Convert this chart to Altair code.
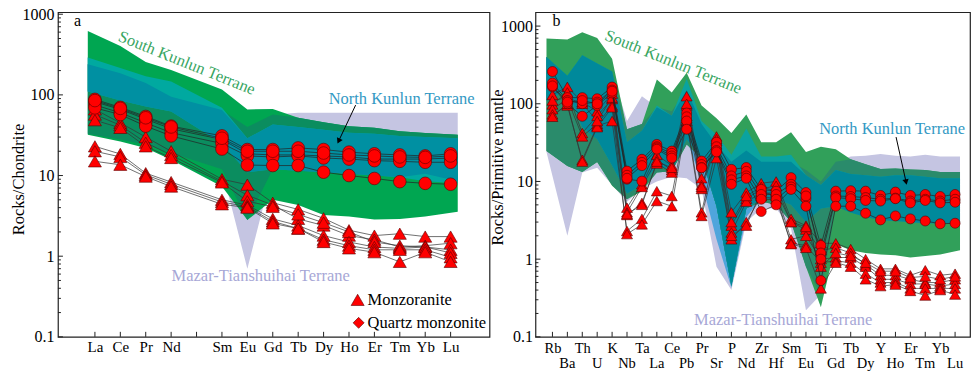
import altair as alt
import pandas as pd
import numpy as np

FONT = "Liberation Serif"

# ================= Panel a : chondrite-normalised REE =================
a_tick_labels = ["La", "Ce", "Pr", "Nd", "", "Sm", "Eu", "Gd", "Tb", "Dy", "Ho", "Er", "Tm", "Yb", "Lu"]
a_pos = [0, 1, 2, 3, 5, 6, 7, 8, 9, 10, 11, 12, 13, 14]
a_band_pos = [-0.28, 1, 2, 3, 5, 6, 7, 8, 9, 10, 11, 12, 13, 14.28]

# terrane fields (upper / lower envelopes)
a_sk_hi = [620, 405, 255, 203, 117, 66, 67, 52, 45.7, 40.7, 39, 35.4, 33.7, 32]
a_sk_lo = [32, 26.5, 21.9, 15.7, 7.3, 2.8, 5.0, 4.3, 3.24, 3.1, 2.86, 2.9, 3.1, 3.56]
a_nk_hi = [290, 216, 170, 147, 69, 29, 43, 40, 37, 34, 33, 31, 30, 29]
a_nk_lo = [110, 85, 72, 62, 25, 11, 12, 11.5, 11, 10.5, 10, 9.5, 8.5, 8]
a_mt_hi = [240, 185, 140, 95, 65, 40, 57, 60, 60, 60, 60, 60, 60, 60]
a_mt_lo = [33, 28, 24, 19, 12, 0.7, 12, 11.5, 11, 10.5, 10, 9.5, 10.5, 8.5]

# quartz monzonite (circles)
a_q1 = [88, 70, 54, 41, 31, 21, 21, 22, 21, 19.5, 18.6, 18, 17.5, 18.6]
a_q2 = [82, 66, 50, 38, 28, 18.6, 18, 18, 17.5, 17, 16, 16, 16, 16.5]
a_q3 = [75, 60, 45, 34, 25, 17.5, 17, 17.5, 16.5, 16, 15.3, 15, 14.6, 14.6]
a_q4 = [69, 57, 41, 31, 21.3, 13.5, 13.3, 13.3, 11, 10, 9.2, 8.4, 8, 7.8]
a_q5 = [85, 68, 52, 40, 29, 20, 20, 20, 19, 18, 17.5, 17, 16.8, 17.5]
# monzoranite (triangles)
a_t1 = [66, 45, 30, 20, 9, 7.7, 4.6, 3.8, 2.95, 2.1, 1.8, 1.9, 1.75, 1.75]
a_t2 = [57, 42, 25.5, 18, 8.5, 5.7, 4.3, 2.9, 2.4, 1.8, 1.6, 1.3, 1.35, 1.45]
a_t3 = [48.5, 39, 23, 16.5, 8.2, 4.8, 4.1, 3.3, 2.6, 2.0, 1.5, 1.35, 1.3, 1.2]
a_t4 = [23, 18.5, 10.7, 8.3, 5.0, 4.3, 2.9, 2.4, 1.8, 1.5, 1.3, 1.25, 1.3, 1.1]
a_t5 = [20, 17, 10.2, 7.8, 4.7, 4.1, 2.7, 2.2, 1.6, 1.35, 1.2, 1.2, 1.2, 0.97]
a_t6 = [15, 13.6, 9.7, 7.3, 4.4, 4.0, 2.55, 2.2, 1.5, 1.25, 1.12, 0.85, 1.12, 0.85]

# ================= Panel b : primitive-mantle-normalised spider =================
b_elems = ["Rb", "Ba", "Th", "U", "K", "Nb", "Ta", "La", "Ce", "Pb", "Pr", "Sr", "P", "Nd",
           "Zr", "Hf", "Sm", "Eu", "Ti", "Gd", "Tb", "Dy", "Y", "Ho", "Er", "Tm", "Yb", "Lu"]
b_pos = list(range(28))
b_band_pos = [-0.4] + list(range(1, 27)) + [27.33]

b_sk_hi = [690, 670, 830, 700, 380, 47, 55, 205, 140, 250, 95, 65, 42, 73, 32, 32, 43, 24, 28, 26,
           19.3, 16.6, 14.5, 14.7, 14.3, 14, 13.2, 13.2]
b_sk_lo = [24.6, 15.8, 13.2, 17.8, 8.8, 5.9, 7.5, 13, 13.5, 30, 20, 4.8, 0.45, 4.5, 5.5, 5, 3, 0.8,
           0.24, 1.55, 1.3, 1.2, 1.15, 1.12, 1.05, 1.1, 1.15, 1.3]
b_nk_hi = [400, 230, 420, 330, 260, 32, 45, 95, 70, 210, 60, 40, 22, 48, 21, 21, 22, 12, 9, 14,
           12.5, 12, 11.5, 12, 12, 11.5, 11, 11]
b_nk_lo = [110, 150, 50, 35, 16, 7, 9, 16, 14, 35, 10, 1.8, 0.43, 3.5, 6, 6, 5, 3, 4.5, 4.8,
           4, 3.5, 3.2, 3.1, 3.0, 2.9, 2.9, 2.9]
b_mt_hi = [400, 230, 420, 330, 260, 60, 125, 90, 80, 150, 55, 30, 18, 25, 18, 18, 18, 14, 10, 18,
           21, 21.5, 22.5, 21.5, 21, 22, 21, 21]
b_mt_lo = [24, 2.0, 13, 15, 9, 5.5, 8, 10, 11.5, 11, 8, 0.8, 0.4, 3, 4.5, 4.5, 2.5, 0.22, 0.35, 4.8,
           4, 3.5, 3.2, 3.1, 3.0, 2.9, 2.9, 2.9]

b_q1 = [260, 120, 120, 116, 164, 13.6, 19.3, 30, 24.6, 76, 18.3, 32, 14.3, 15.1, 7.9, 7.5, 11.2, 7.2,
        1.5, 7.5, 7.6, 7.5, 6.6, 7.3, 6.6, 6.8, 6.4, 6.8]
b_q2 = [185, 110, 100, 105, 150, 12, 17.6, 28, 23, 68, 16.5, 28, 11.8, 13.5, 6.8, 6.8, 9.2, 6.0,
        1.2, 6.5, 6.4, 6.2, 5.9, 6.1, 5.6, 5.9, 5.6, 5.9]
b_q3 = [165, 100, 69, 95, 138, 10.7, 10.1, 27, 21.3, 60, 15.1, 25, 10.5, 11.8, 5.9, 5.9, 8.5, 6.5,
        1.0, 6.2, 6.0, 5.7, 5.6, 6.0, 5.3, 5.7, 5.3, 5.4]
b_q4 = [170, 105, 110, 100, 145, 11, 16, 26, 20, 47, 15, 24, 9.2, 11, 4.1, 5.0, 7.9, 4.8,
        0.53, 4.8, 4.8, 3.9, 3.2, 3.6, 3.3, 3.1, 2.85, 2.9]
b_t1 = [130, 165, 105, 80, 135, 4.6, 9.2, 22, 16, 125, 11, 38, 4.0, 7.2, 9.5, 10, 3.3, 2.7,
        1.6, 1.6, 1.35, 1.0, 0.75, 0.75, 0.62, 0.72, 0.62, 0.65]
b_t2 = [98, 140, 42, 70, 115, 4.0, 8.5, 19, 14, 95, 9, 33, 2.7, 6.0, 8, 8.8, 3.0, 2.4,
        1.3, 1.4, 1.2, 0.85, 0.62, 0.62, 0.55, 0.5, 0.5, 0.55]
b_t3 = [85, 115, 38, 55, 95, 3.7, 5.3, 17, 13, 70, 8, 30, 2.2, 5.5, 7, 7.2, 1.8, 2.0,
        1.0, 1.05, 1.05, 0.8, 0.55, 0.55, 0.48, 0.48, 0.45, 0.48]
b_t4 = [73, 95, 19, 52, 60, 2.3, 3.3, 7.5, 6.5, 65, 4.0, 28, 1.8, 3.0, 6.5, 5.9, 1.6, 1.5,
        0.9, 0.95, 0.9, 0.65, 0.5, 0.5, 0.42, 0.42, 0.42, 0.42]
b_t5 = [68, 100, 18, 50, 90, 2.1, 2.8, 5.6, 4.8, 60, 3.6, 20, 2.0, 2.7, 7.5, 6.5, 1.56, 1.4,
        0.42, 0.9, 0.8, 0.55, 0.45, 0.47, 0.39, 0.34, 0.40, 0.35]
b_t6 = [110, 120, 100, 60, 120, 3.8, 5, 18, 15, 100, 8.5, 35, 3, 6.5, 8.5, 7.5, 3.0, 2.6,
        0.8, 1.2, 1.1, 0.9, 0.7, 0.7, 0.58, 0.6, 0.55, 0.6]

A_COLORS = {"mt": "#c5c5e2", "nk": "#4fa5dc", "sk": "#00a651",
            "sk_mt": "#0b8d5f", "sk_nk": "#00a9a0", "all": "#0090a2"}
B_COLORS = {"mt": "#c5c5e2", "nk": "#4fa5dc", "sk": "#31a05a",
            "sk_mt": "#2a8b6b", "sk_nk": "#0aa3a0", "all": "#00899b"}
SK_TXT = "#38a55f"
NK_TXT = "#3399c4"
MT_TXT = "#a7a7d6"


def make_bands(band_pos, sk, nk, mt):
    SK = (np.array(sk[0], float), np.array(sk[1], float))
    NK = (np.array(nk[0], float), np.array(nk[1], float))
    MT = (np.array(mt[0], float), np.array(mt[1], float))

    def inter(*bs):
        lo = np.max([b[0] for b in bs], axis=0)
        hi = np.min([b[1] for b in bs], axis=0)
        mid = np.sqrt(lo * hi)
        empty = lo >= hi
        return np.where(empty, mid, lo), np.where(empty, mid, hi)

    regs = [("mt", MT), ("nk", NK), ("sk", SK),
            ("sk_mt", inter(SK, MT)), ("sk_nk", inter(SK, NK)), ("all", inter(SK, NK, MT))]
    return [(n, pd.DataFrame({"p": band_pos, "lo": r[0], "hi": r[1]})) for n, r in regs]


def series_df(series, pos):
    rows = []
    for name, vals in series:
        for p, v in zip(pos, vals):
            rows.append({"s": name, "p": p, "v": v})
    return pd.DataFrame(rows)


def one(**kw):
    return pd.DataFrame([kw]) if kw else pd.DataFrame([{"d": 0}])


def build_panel(W, H, xdom, ydom, x_axis, y_axis, bands, colors, pos, qm, mz,
                circ_size, tri_size, n_xticks, extra):
    xs = alt.Scale(domain=xdom, nice=False, zero=False)
    ys = alt.Scale(type="log", domain=ydom, nice=False)

    def X(f):
        return alt.X(f"{f}:Q", scale=xs, axis=x_axis)

    def Y(f):
        return alt.Y(f"{f}:Q", scale=ys, axis=y_axis)

    layers = []
    for name, df in bands:
        layers.append(alt.Chart(df).mark_area(color=colors[name], opacity=1, strokeWidth=0)
                      .encode(x=X("p"), y=Y("hi"), y2=alt.Y2("lo")))

    mzdf = series_df(mz, pos)
    qmdf = series_df(qm, pos)
    layers.append(alt.Chart(mzdf).mark_line(color="#333333", strokeWidth=0.7)
                  .encode(x=X("p"), y=Y("v"), detail="s:N"))
    layers.append(alt.Chart(mzdf).mark_point(shape="triangle-up", filled=True, fill="#ff0000",
                                             stroke="#5a0000", strokeWidth=0.6, size=tri_size, opacity=1)
                  .encode(x=X("p"), y=Y("v")))
    layers.append(alt.Chart(qmdf).mark_line(color="#222222", strokeWidth=0.7)
                  .encode(x=X("p"), y=Y("v"), detail="s:N"))
    layers.append(alt.Chart(qmdf).mark_point(shape="circle", filled=True, fill="#ff0000",
                                             stroke="#5a0000", strokeWidth=0.6, size=circ_size, opacity=1)
                  .encode(x=X("p"), y=Y("v")))

    # inward ticks
    major = [0.1, 1, 10, 100, 1000]
    minor = [k * d for d in [0.1, 1, 10, 100, 1000] for k in range(2, 10) if k * d <= ydom[1]]
    layers.append(alt.Chart(pd.DataFrame({"v": major})).mark_rule(color="#222", strokeWidth=1)
                  .encode(y=Y("v"), x=alt.value(0), x2=alt.value(5)))
    layers.append(alt.Chart(pd.DataFrame({"v": minor})).mark_rule(color="#222", strokeWidth=1)
                  .encode(y=Y("v"), x=alt.value(0), x2=alt.value(3)))
    layers.append(alt.Chart(pd.DataFrame({"p": list(range(n_xticks))})).mark_rule(color="#222", strokeWidth=1)
                  .encode(x=X("p"), y=alt.value(H), y2=alt.value(H - 5)))

    for e in extra:
        layers.append(e(X, Y))
    return alt.layer(*layers).properties(width=W, height=H)


def text_layer(t, x, y, size=16.5, color="black", angle=0, align="center"):
    def f(X, Y):
        return alt.Chart(one(t=t)).mark_text(font=FONT, fontSize=size, color=color, angle=angle,
                                             align=align, baseline="middle").encode(
            x=alt.value(x), y=alt.value(y), text="t:N")
    return f


def arrow_layer(x1, y1, x2, y2, ang):
    def f(X, Y):
        line = alt.Chart(one()).mark_rule(color="black", strokeWidth=1).encode(
            x=alt.value(x1), y=alt.value(y1), x2=alt.value(x2), y2=alt.value(y2))
        head = alt.Chart(one()).mark_point(shape="triangle-up", filled=True, color="black",
                                           size=40, angle=ang, opacity=1).encode(
            x=alt.value(x2), y=alt.value(y2))
        return alt.layer(line, head)
    return f


def symbol_layer(shape, x, y, size):
    def f(X, Y):
        return alt.Chart(one()).mark_point(shape=shape, filled=True, fill="#ff0000", stroke="#5a0000",
                                           strokeWidth=0.6, size=size, opacity=1).encode(
            x=alt.value(x), y=alt.value(y))
    return f


H = 325

# ---- panel a ----
WA = 432
a_label_expr = "[" + ",".join(f"'{l}'" for l in a_tick_labels) + "][datum.value]"
a_x_axis = alt.Axis(values=list(range(15)), labelExpr=a_label_expr, ticks=False, domain=False,
                    grid=False, labelPadding=3, labelFontSize=15, title=None, labelOverlap=False,
                    labelFlush=False, labelBound=False)
a_y_axis = alt.Axis(values=[0.1, 1, 10, 100, 1000], format="~g", ticks=False, domain=False, grid=False,
                    labelPadding=4, labelFontSize=16, labelOverlap=False, labelFlush=False,
                    title="Rocks/Chondrite", titleFontSize=16.5, titleFontWeight="normal",
                    titleAngle=270, titleBaseline="middle", titleAlign="center", titleX=-39.5, titleY=167)

panel_a = build_panel(
    WA, H, [-1.455, 15.53], [0.1, 1060], a_x_axis, a_y_axis,
    make_bands(a_band_pos, (a_sk_lo, a_sk_hi), (a_nk_lo, a_nk_hi), (a_mt_lo, a_mt_hi)),
    A_COLORS, a_pos,
    [("q1", a_q1), ("q2", a_q2), ("q3", a_q3), ("q4", a_q4), ("q5", a_q5)],
    [("t1", a_t1), ("t2", a_t2), ("t3", a_t3), ("t4", a_t4), ("t5", a_t5), ("t6", a_t6)],
    160, 170, 15,
    [text_layer("a", 16, 9, size=16, align="left"),
     text_layer("South Kunlun Terrane", 129, 51, color=SK_TXT, angle=22),
     text_layer("North Kunlun Terrane", 344, 87, color=NK_TXT),
     arrow_layer(298, 93, 281, 129, 205),
     text_layer("Mazar-Tianshuihai Terrane", 203, 264, color=MT_TXT),
     symbol_layer("triangle-up", 300, 288, 170),
     text_layer("Monzoranite", 310, 288, align="left"),
     symbol_layer("diamond", 301, 311, 121),
     text_layer("Quartz monzonite", 310, 311, align="left")])

# ---- panel b ----
WB = 435
b_label_expr = "[" + ",".join(f"'{l}'" for l in b_elems) + "][datum.value]"
b_x_axis = alt.Axis(values=list(range(0, 28, 2)), labelExpr=b_label_expr, ticks=False, domain=False,
                    grid=False, labelPadding=5, labelFontSize=14.5, title=None, labelOverlap=False,
                    labelFlush=False, labelBound=False)
b_y_axis = alt.Axis(values=[0.1, 1, 10, 100, 1000], format="~g", ticks=False, domain=False, grid=False,
                    labelPadding=3, labelFontSize=16, labelOverlap=False, labelFlush=False,
                    title="Rocks/Primitive mantle", titleFontSize=16.5, titleFontWeight="normal",
                    titleAngle=270, titleBaseline="middle", titleAlign="center", titleX=-38, titleY=155)


def second_row(X, Y):
    df = pd.DataFrame({"p": b_pos[1::2], "lab": b_elems[1::2]})
    return alt.Chart(df).mark_text(font=FONT, fontSize=14.5, color="black", baseline="middle").encode(
        x=X("p"), y=alt.value(H + 27), text="lab:N")


panel_b = build_panel(
    WB, H, [-1.14, 28.0], [0.1, 1510], b_x_axis, b_y_axis,
    make_bands(b_band_pos, (b_sk_lo, b_sk_hi), (b_nk_lo, b_nk_hi), (b_mt_lo, b_mt_hi)),
    B_COLORS, b_pos,
    [("q1", b_q1), ("q2", b_q2), ("q3", b_q3), ("q4", b_q4)],
    [("t1", b_t1), ("t2", b_t2), ("t3", b_t3), ("t4", b_t4), ("t5", b_t5), ("t6", b_t6)],
    100, 120, 28,
    [second_row,
     text_layer("b", 17, 9, size=16, align="left"),
     text_layer("South Kunlun Terrane", 138, 50, color=SK_TXT, angle=22),
     text_layer("North Kunlun Terrane", 357, 117, color=NK_TXT),
     arrow_layer(361, 125, 371, 170, 167.5),
     text_layer("Mazar-Tianshuihai Terrane", 248, 308, color=MT_TXT)])

chart = alt.hconcat(panel_a, panel_b, spacing=46, bounds="flush").properties(
    padding={"left": 9, "top": 5, "right": 0, "bottom": 0},
    background="white",
).configure_view(stroke="#222222", strokeWidth=1.2).configure_axis(
    labelFont=FONT, titleFont=FONT, labelColor="black", titleColor="black")

chart.save("out.html", embed_options={"renderer": "svg", "actions": False})
